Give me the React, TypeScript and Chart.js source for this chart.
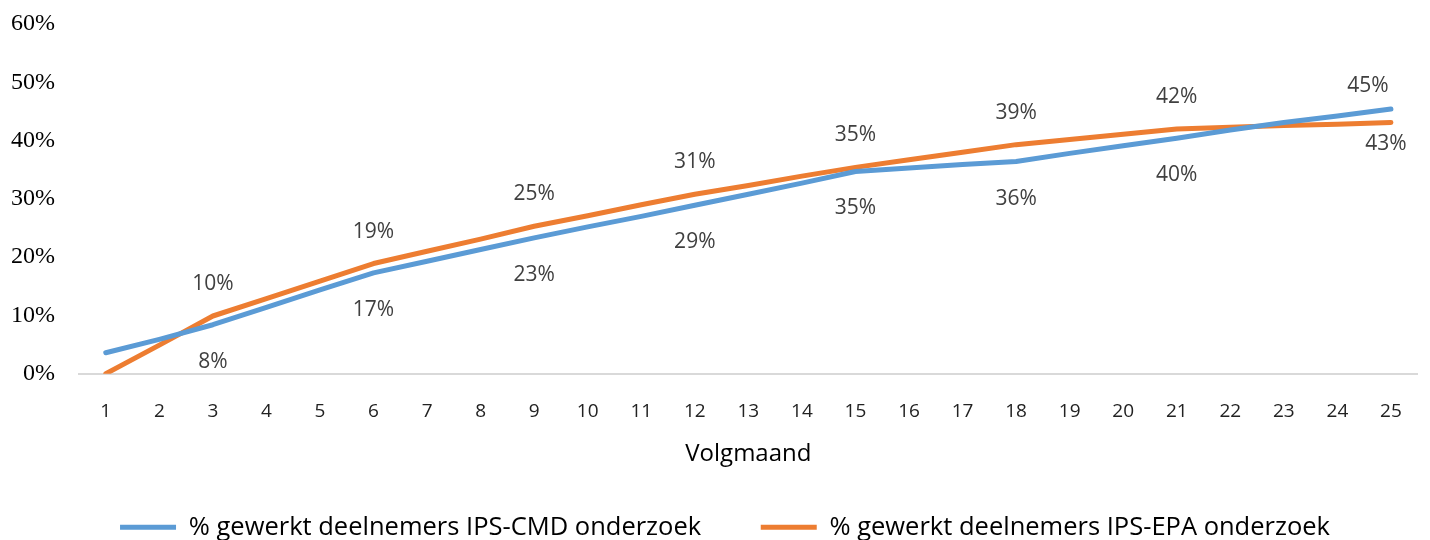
import React, { useEffect, useRef } from "react";
import { Chart, registerables } from "chart.js";

Chart.register(...registerables);

const months: string[] = [
  "1", "2", "3", "4", "5", "6", "7", "8", "9", "10", "11", "12", "13",
  "14", "15", "16", "17", "18", "19", "20", "21", "22", "23", "24", "25",
];

const cmdValues: number[] = [
  3.6, 5.9, 8.4, 11.4, 14.4, 17.3, 19.3, 21.3, 23.3, 25.2, 27.0, 28.9, 30.8,
  32.7, 34.7, 35.3, 35.9, 36.4, 37.8, 39.1, 40.4, 41.8, 43.1, 44.2, 45.4,
];

const epaValues: number[] = [
  0, 4.9, 9.9, 12.9, 15.9, 18.9, 21.0, 23.1, 25.3, 27.1, 29.0, 30.8, 32.3,
  33.9, 35.4, 36.7, 38.0, 39.3, 40.2, 41.1, 42.0, 42.3, 42.6, 42.8, 43.1,
];

const seriesNames: string[] = [
  "% gewerkt deelnemers IPS-CMD onderzoek",
  "% gewerkt deelnemers IPS-EPA onderzoek",
];

const labelledMonths: string[] = ["3", "6", "9", "12", "15", "18", "21", "25"];

const yTicks: number[] = [0, 10, 20, 30, 40, 50, 60];

const axisTitle = "Volgmaand";

const dataLabelPlugin = {
  id: "dataLabelPlugin",
  afterLayout(chart: any) {
    const lg = chart.legend;
    if (lg) {
      lg.top += 10;
      lg.bottom += 10;
      lg.left += 15;
      lg.right += 15;
    }
  },
  afterDatasetsDraw(chart: any) {
    const ctx = chart.ctx;
    ctx.save();
    ctx.font = "21px 'Open Sans'";
    ctx.fillStyle = "#404040";
    ctx.textAlign = "center";
    ctx.textBaseline = "middle";
    chart.data.datasets.forEach((ds: any, di: number) => {
      const meta = chart.getDatasetMeta(di);
      labelledMonths.forEach((m) => {
        const idx = months.indexOf(m);
        const el = meta.data[idx];
        if (!el) return;
        const v = ds.data[idx];
        const text = Math.round(v) + "%";
        const isLast = idx === months.length - 1;
        let dy: number;
        let dx = 0;
        if (di === 0) {
          dy = isLast ? -23 : 37;
          if (isLast) dx = -23;
        } else {
          dy = isLast ? 22 : -32;
          if (isLast) dx = -5;
        }
        ctx.fillText(text, el.x + dx, el.y + dy);
      });
    });
    ctx.restore();
  },
};

export default function App() {
  const canvasRef = useRef<HTMLCanvasElement | null>(null);

  useEffect(() => {
    document.body.style.margin = "0";
    const canvas = canvasRef.current;
    if (!canvas) return;
    const chart = new Chart(canvas, {
      type: "line",
      data: {
        labels: months,
        datasets: [
          {
            label: seriesNames[0],
            data: cmdValues,
            borderColor: "#5B9BD5",
            backgroundColor: "#5B9BD5",
            borderWidth: 5,
            pointRadius: 0,
            borderCapStyle: "round",
            borderJoinStyle: "round",
            tension: 0,
          },
          {
            label: seriesNames[1],
            data: epaValues,
            borderColor: "#ED7D31",
            backgroundColor: "#ED7D31",
            borderWidth: 5,
            pointRadius: 0,
            borderCapStyle: "round",
            borderJoinStyle: "round",
            tension: 0,
          },
        ],
      },
      options: {
        responsive: false,
        animation: false,
        layout: { padding: { top: 24, right: 10, left: 0, bottom: 0 } },
        plugins: {
          tooltip: { enabled: false },
          legend: {
            position: "bottom",
            labels: {
              boxWidth: 56,
              boxHeight: 5,
              padding: 0,
              color: "#000000",
              font: { family: "'Open Sans'", size: 25.5 },
              generateLabels: (chart: any) =>
                chart.data.datasets.map((ds: any, i: number) => ({
                  text: i === 0 ? ds.label + "         " : ds.label,
                  fillStyle: ds.borderColor,
                  strokeStyle: ds.borderColor,
                  lineWidth: 0,
                  hidden: false,
                  datasetIndex: i,
                  fontColor: "#000000",
                })),
            },
          },
        },
        scales: {
          x: {
            offset: true,
            grid: { display: false, drawTicks: false },
            border: { display: true, color: "#d9d9d9", width: 2 },
            ticks: {
              color: "#222222",
              padding: 28,
              font: { family: "'Open Sans'", size: 19, lineHeight: 1 },
              maxRotation: 0,
              autoSkip: false,
            },
            title: {
              display: true,
              text: axisTitle,
              color: "#000000",
              font: { family: "'Open Sans'", size: 24 },
              padding: { top: -9, bottom: 36 },
            },
          },
          y: {
            min: 0,
            max: 60,
            afterBuildTicks: (scale: any) => {
              scale.ticks = yTicks.map((v) => ({ value: v }));
            },
            afterFit: (scale: any) => {
              scale.width = 79;
              scale.paddingTop = 0;
              scale.paddingBottom = 0;
            },
            grid: { display: false, drawTicks: false },
            border: { display: false },
            ticks: {
              color: "#000000",
              padding: 24,
              font: { family: "'Liberation Serif'", size: 24 },
              callback: (v: any) => v + "%",
            },
          },
        },
      },
      plugins: [dataLabelPlugin],
    });
    return () => chart.destroy();
  }, []);

  return (
    <div style={{ width: 1430, height: 540 }}>
      <canvas ref={canvasRef} width={1430} height={540} />
    </div>
  );
}
